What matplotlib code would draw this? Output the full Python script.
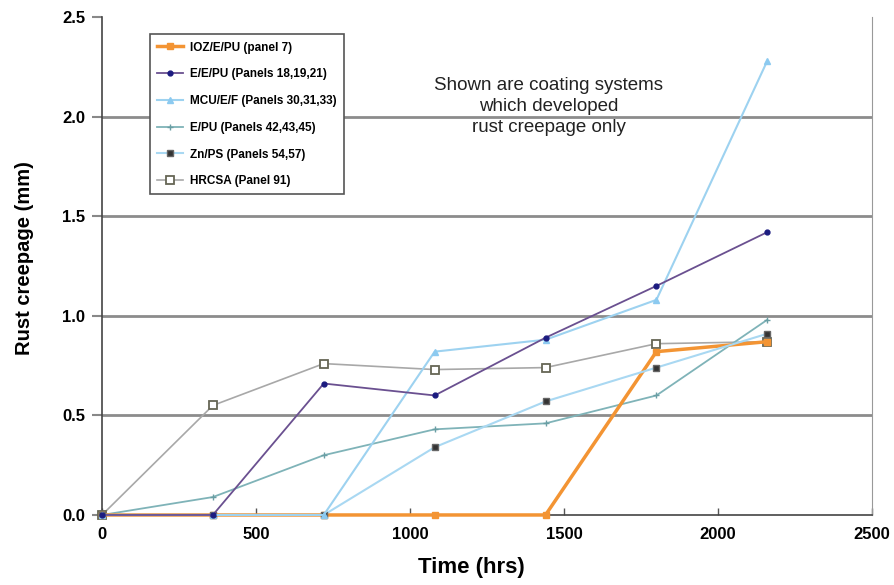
import matplotlib.pyplot as plt
import matplotlib.font_manager as fm

# weekly readings (hrs)
hours = [0, 360, 720, 1080, 1440, 1800, 2160]

ioz_e_pu = [0, 0, 0, 0, 0, 0.82, 0.87]
e_e_pu = [0, 0, 0.66, 0.60, 0.89, 1.15, 1.42]
mcu_e_f = [0, 0, 0, 0.82, 0.88, 1.08, 2.28]
e_pu = [0, 0.09, 0.30, 0.43, 0.46, 0.60, 0.98]
zn_ps = [0, 0, 0, 0.34, 0.57, 0.74, 0.91]
hrcsa = [0, 0.55, 0.76, 0.73, 0.74, 0.86, 0.87]

labels = ['IOZ/E/PU (panel 7)', 'E/E/PU (Panels 18,19,21)',
          'MCU/E/F (Panels 30,31,33)', 'E/PU (Panels 42,43,45)',
          'Zn/PS (Panels 54,57)', 'HRCSA (Panel 91)']

names = {f.name for f in fm.fontManager.ttflist}
narrow = 'Liberation Sans Narrow' if 'Liberation Sans Narrow' in names else 'Liberation Sans'
plt.rcParams['font.family'] = [narrow, 'DejaVu Sans']

fig = plt.figure(figsize=(8.94, 5.85), dpi=100)
ax = fig.add_axes([0.1141, 0.1197, 0.8613, 0.8512])

ax.plot(hours, hrcsa, color='#a8a8a8', lw=1.2, marker='s', ms=6,
        mfc='white', mec='#666655', mew=1.3, label=labels[5], clip_on=False, zorder=3)
ax.plot(hours, e_pu, color='#7fb3b8', lw=1.3, marker='+', ms=4,
        mec='#6a9ea4', label=labels[3], clip_on=False, zorder=3)
ax.plot(hours, zn_ps, color='#a9d8f2', lw=1.5, marker='s', ms=5,
        mfc='#333333', mec='#666666', label=labels[4], clip_on=False, zorder=4)
ax.plot(hours, mcu_e_f, color='#9dd2f0', lw=1.5, marker='^', ms=4,
        mfc='#8ccaf0', mec='#8ccaf0', label=labels[2], clip_on=False, zorder=4)
ax.plot(hours, e_e_pu, color='#6a5090', lw=1.3, marker='o', ms=3.5,
        mfc='#1c1c80', mec='#1c1c80', label=labels[1], clip_on=False, zorder=5)
ax.plot(hours, ioz_e_pu, color='#f39433', lw=2.5, marker='s', ms=4,
        mfc='#f39433', mec='#f39433', label=labels[0], clip_on=False, zorder=3.5)

ax.set_xlim(0, 2500)
ax.set_ylim(0, 2.5)
ax.set_xticks([0, 500, 1000, 1500, 2000, 2500])
ax.set_yticks([0, 0.5, 1.0, 1.5, 2.0, 2.5])
ax.set_yticklabels(['0.0', '0.5', '1.0', '1.5', '2.0', '2.5'])
for lab in ax.get_xticklabels() + ax.get_yticklabels():
    lab.set_family(['Liberation Sans', 'DejaVu Sans'])
    lab.set_fontweight('bold')
    lab.set_fontsize(12)
ax.tick_params(axis='y', length=7, width=1.5, color='#888888', pad=5)
ax.tick_params(axis='x', length=5, width=1, color='#555555', direction='in', pad=9)

for y in [0.5, 1.0, 1.5, 2.0]:
    ax.axhline(y, color='#8c8c8c', lw=2, zorder=1)

ax.spines['top'].set_visible(False)
ax.spines['right'].set_color('#999999')
ax.spines['left'].set_color('#444444')
ax.spines['bottom'].set_color('#444444')
ax.spines['left'].set_linewidth(1.2)
ax.spines['bottom'].set_linewidth(1.2)

ax.set_xlabel('Time (hrs)', fontsize=16, fontweight='bold', labelpad=3)
ax.xaxis.set_label_coords(0.48, -0.085)
ax.set_ylabel('Rust creepage (mm)', fontsize=14.5, fontweight='bold')
ax.yaxis.set_label_coords(-0.088, 0.515)

ax.text(1450, 2.05, 'Shown are coating systems\nwhich developed\nrust creepage only',
        ha='center', va='center', fontsize=13.5, family=['Liberation Sans', 'DejaVu Sans'],
        linespacing=1.33, color='#222222')

handles, labs = ax.get_legend_handles_labels()
order = [labs.index(l) for l in labels]
leg = ax.legend([handles[i] for i in order], labels, loc='upper left',
                bbox_to_anchor=(0.062, 0.965), frameon=True, fancybox=False,
                edgecolor='#555555', framealpha=1, prop={'weight': 'bold', 'size': 8.5},
                labelspacing=1.25, handlelength=2.2, handletextpad=0.6,
                borderpad=0.6, borderaxespad=0)
leg.get_frame().set_linewidth(1.2)
leg.set_zorder(10)

fig.savefig('out.png', dpi=100)
